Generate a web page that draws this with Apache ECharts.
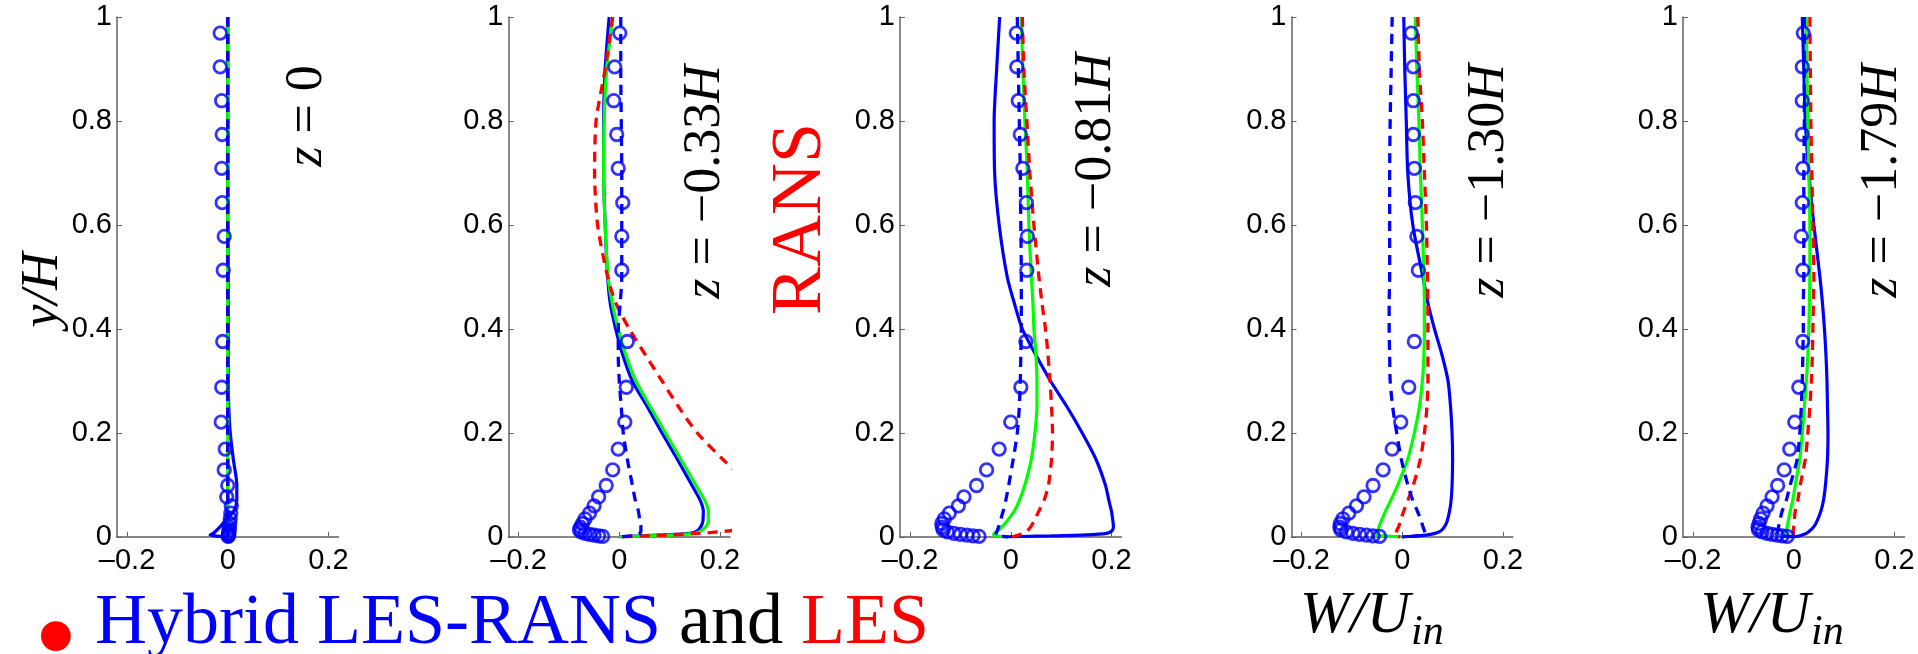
<!DOCTYPE html>
<html><head><meta charset="utf-8">
<script src="https://cdn.jsdelivr.net/npm/echarts@6/dist/echarts.min.js"></script>
<style>html,body{margin:0;padding:0;background:#fff}#c{width:1918px;height:654px}</style>
</head><body><div id="c"></div>
<script>
// ---------- DATA ----------
const stationLabels = ['0', '−0.33', '−0.81', '−1.30', '−1.79'];
const xTicks = [-0.2, 0, 0.2];
const yTicks = [0, 0.2, 0.4, 0.6, 0.8, 1];

// experimental points (blue circles): common y positions
const expY = [0.969, 0.904, 0.839, 0.774, 0.709, 0.643, 0.578, 0.513, 0.376, 0.288, 0.221, 0.169, 0.129, 0.099, 0.077, 0.060, 0.046, 0.035, 0.026, 0.019, 0.014, 0.010, 0.007, 0.005, 0.0035, 0.0022, 0.0012];
const exp_z0    = [-0.015, -0.015, -0.012, -0.011, -0.012, -0.011, -0.007, -0.009, -0.010, -0.012, -0.013, -0.005, -0.007, 0.000, -0.002, 0.007, 0.006, 0.005, 0.004, 0.003, 0.003, 0.002, 0.002, 0.002, 0.001, 0.001, 0.001];
const exp_z033  = [0.001, -0.009, -0.011, -0.005, -0.002, 0.007, 0.005, 0.005, 0.016, 0.014, 0.011, -0.002, -0.013, -0.026, -0.041, -0.050, -0.059, -0.068, -0.073, -0.077, -0.079, -0.076, -0.068, -0.059, -0.050, -0.041, -0.033];
const exp_z081  = [0.011, 0.012, 0.015, 0.019, 0.024, 0.031, 0.033, 0.032, 0.030, 0.020, 0.000, -0.023, -0.048, -0.068, -0.093, -0.104, -0.122, -0.132, -0.137, -0.136, -0.134, -0.126, -0.113, -0.100, -0.087, -0.075, -0.063];
const exp_z130  = [0.018, 0.022, 0.022, 0.022, 0.024, 0.026, 0.029, 0.032, 0.024, 0.013, -0.003, -0.020, -0.038, -0.058, -0.076, -0.091, -0.106, -0.118, -0.123, -0.124, -0.122, -0.111, -0.098, -0.085, -0.071, -0.058, -0.045];
const exp_z179  = [0.019, 0.017, 0.017, 0.017, 0.018, 0.017, 0.015, 0.018, 0.018, 0.010, 0.002, -0.008, -0.019, -0.032, -0.043, -0.053, -0.061, -0.066, -0.069, -0.071, -0.070, -0.063, -0.053, -0.043, -0.033, -0.023, -0.013];

// simulation profiles: common y positions
const lineY = [1, 0.9, 0.8, 0.7, 0.6, 0.5, 0.45, 0.4, 0.35, 0.3, 0.25, 0.2, 0.15, 0.1, 0.07, 0.05, 0.03, 0.02, 0.012, 0.007, 0.004, 0.002, 0.001, 0];

// blue solid
const blueSolid_z0   = [0, 0, 0, 0, 0, 0.001, 0.001, 0.001, 0.001, 0.001, 0.002, 0.005, 0.011, 0.018, 0.018, 0.012, -0.006, -0.015, -0.023, -0.029, -0.035, -0.025, -0.012, 0];
const blueSolid_z033 = [-0.020, -0.028, -0.031, -0.031, -0.028, -0.023, -0.018, -0.007, 0.007, 0.026, 0.056, 0.085, 0.115, 0.144, 0.161, 0.167, 0.166, 0.162, 0.155, 0.140, 0.090, 0.040, 0.010, 0];
const blueSolid_z081 = [-0.022, -0.028, -0.033, -0.032, -0.023, -0.007, 0.007, 0.023, 0.050, 0.079, 0.112, 0.142, 0.169, 0.188, 0.195, 0.200, 0.203, 0.204, 0.201, 0.190, 0.150, 0.080, 0.020, -0.013];
const blueSolid_z130 = [0.003, 0.005, 0.008, 0.011, 0.021, 0.041, 0.051, 0.064, 0.079, 0.091, 0.096, 0.099, 0.100, 0.099, 0.097, 0.094, 0.089, 0.084, 0.077, 0.065, 0.050, 0.030, 0.015, 0];
const blueSolid_z179 = [0.017, 0.020, 0.023, 0.030, 0.040, 0.052, 0.057, 0.061, 0.064, 0.066, 0.067, 0.068, 0.067, 0.063, 0.059, 0.054, 0.046, 0.040, 0.032, 0.025, 0.017, 0.010, 0.005, 0];

// blue dashed
const blueDash_z0   = [0, 0, 0, 0, 0, 0, 0, 0, 0, 0, 0, 0, 0, 0, 0, 0, 0, 0, 0, 0, 0, 0, 0, 0];
const blueDash_z033 = [0.003, 0.003, 0.004, 0.005, 0.005, 0.005, 0.002, -0.002, -0.002, 0.000, 0.004, 0.008, 0.016, 0.026, 0.032, 0.038, 0.041, 0.043, 0.043, 0.041, 0.036, 0.025, 0.012, 0];
const blueDash_z081 = [0.013, 0.015, 0.017, 0.019, 0.020, 0.021, 0.021, 0.021, 0.020, 0.019, 0.017, 0.013, 0.005, -0.004, -0.010, -0.015, -0.021, -0.024, -0.027, -0.029, -0.030, -0.025, -0.015, -0.005];
const blueDash_z130 = [-0.020, -0.022, -0.024, -0.025, -0.025, -0.025, -0.026, -0.026, -0.025, -0.024, -0.019, -0.011, -0.002, 0.011, 0.021, 0.030, 0.038, 0.041, 0.044, 0.046, 0.046, 0.030, 0.015, 0];
const blueDash_z179 = [0.021, 0.021, 0.021, 0.020, 0.020, 0.020, 0.019, 0.019, 0.018, 0.017, 0.015, 0.012, 0.007, -0.007, -0.015, -0.023, -0.028, -0.030, -0.032, -0.033, -0.033, -0.022, -0.011, 0];

// green solid
const green_z0   = [0, 0, 0, 0, 0, 0, 0, 0, 0, 0, 0, 0, 0, 0, 0, 0, 0, 0, 0, 0, 0, 0, 0, 0];
const green_z033 = [-0.013, -0.025, -0.030, -0.031, -0.028, -0.022, -0.014, -0.002, 0.013, 0.033, 0.062, 0.092, 0.122, 0.152, 0.170, 0.177, 0.177, 0.172, 0.163, 0.150, 0.110, 0.060, 0.020, 0];
const green_z081 = [0.021, 0.024, 0.028, 0.033, 0.036, 0.041, 0.044, 0.046, 0.050, 0.052, 0.052, 0.048, 0.041, 0.028, 0.017, 0.007, -0.008, -0.017, -0.026, -0.033, -0.034, -0.028, -0.020, -0.013];
const green_z130 = [0.026, 0.029, 0.033, 0.036, 0.040, 0.043, 0.044, 0.044, 0.043, 0.040, 0.034, 0.024, 0.011, -0.009, -0.023, -0.033, -0.042, -0.046, -0.049, -0.051, -0.052, -0.035, -0.015, 0];
const green_z179 = [0.025, 0.026, 0.028, 0.030, 0.032, 0.032, 0.031, 0.030, 0.028, 0.025, 0.021, 0.017, 0.012, 0.003, -0.002, -0.007, -0.011, -0.013, -0.015, -0.016, -0.017, -0.012, -0.006, 0];

// red dashed
const red_z0   = [0, 0, 0, 0, 0, 0, 0, 0, 0, 0, 0, 0, 0, 0, 0, 0, 0, 0, 0, 0, 0, 0, 0, 0];
const red_z033 = [-0.013, -0.028, -0.046, -0.049, -0.043, -0.023, -0.007, 0.020, 0.052, 0.085, 0.118, 0.155, 0.205, 0.260, 0.290, 0.300, 0.290, 0.270, 0.220, 0.160, 0.100, 0.050, 0.020, 0];
const red_z081 = [0.023, 0.026, 0.032, 0.038, 0.046, 0.056, 0.062, 0.069, 0.074, 0.078, 0.081, 0.083, 0.081, 0.075, 0.066, 0.056, 0.046, 0.040, 0.033, 0.024, 0.017, 0.010, 0.006, 0.002];
const red_z130 = [0.031, 0.034, 0.040, 0.044, 0.048, 0.050, 0.051, 0.051, 0.051, 0.051, 0.049, 0.044, 0.036, 0.022, 0.011, 0.003, -0.004, -0.007, -0.011, -0.013, -0.015, -0.012, -0.008, -0.004];
const red_z179 = [0.032, 0.033, 0.034, 0.036, 0.038, 0.040, 0.039, 0.038, 0.037, 0.035, 0.032, 0.028, 0.023, 0.013, 0.008, 0.003, 0.001, 0.000, -0.001, -0.001, -0.001, 0, 0, 0];

// ---------- BUILD ----------
const expSets = [exp_z0, exp_z033, exp_z081, exp_z130, exp_z179];
const blueSolidSets = [blueSolid_z0, blueSolid_z033, blueSolid_z081, blueSolid_z130, blueSolid_z179];
const blueDashSets = [blueDash_z0, blueDash_z033, blueDash_z081, blueDash_z130, blueDash_z179];
const greenSets = [green_z0, green_z033, green_z081, green_z130, green_z179];
const redSets = [red_z0, red_z033, red_z081, red_z130, red_z179];

const gridLefts = [117, 508.5, 900, 1291.5, 1683];
const gridW = 221.5, gridTop = 17, gridH = 520;
const axisCol = '#606060';
const tickFont = 'Liberation Sans';
const mathFont = 'Liberation Serif';

const grids = [], xAxes = [], yAxes = [], series = [];
const pairs = (xs, ys) => xs.map((x, k) => [x, ys[k]]);
const fmtX = v => (v < 0 ? '–' + Math.abs(v) : String(v));

for (let i = 0; i < 5; i++) {
  grids.push({left: gridLefts[i], top: gridTop, width: gridW, height: gridH, containLabel: false});
  xAxes.push({
    type: 'value', gridIndex: i, min: -0.22, max: 0.22,
    splitLine: {show: false},
    axisLine: {show: true, lineStyle: {color: axisCol, width: 1.5}},
    axisTick: {show: true, inside: true, length: 5, customValues: xTicks, lineStyle: {color: axisCol, width: 1}},
    axisLabel: {customValues: xTicks, formatter: fmtX, color: '#000', fontFamily: tickFont, fontSize: 29, margin: 9}
  });
  yAxes.push({
    type: 'value', gridIndex: i, min: 0, max: 1, interval: 0.2,
    splitLine: {show: false},
    axisLine: {show: true, onZero: false, lineStyle: {color: axisCol, width: 1.5}},
    axisTick: {show: true, inside: true, length: 5, lineStyle: {color: axisCol, width: 1}},
    axisLabel: {color: '#000', fontFamily: tickFont, fontSize: 29, margin: 5}
  });
  const common = {type: 'line', xAxisIndex: i, yAxisIndex: i, showSymbol: false, symbol: 'none', smooth: 0.25, clip: true, animation: false, z: 2};
  series.push(Object.assign({}, common, {name: 'Hybrid LES-RANS', data: pairs(blueSolidSets[i], lineY), lineStyle: {color: '#0000ff', width: 3.2}}));
  series.push(Object.assign({}, common, {name: 'green', data: pairs(greenSets[i], lineY), lineStyle: {color: '#00ff00', width: 3.2}}));
  series.push(Object.assign({}, common, {name: 'LES', data: pairs(redSets[i], lineY), lineStyle: {color: '#ff0000', width: 3.3, type: [10, 7]}}));
  series.push(Object.assign({}, common, {name: 'blue dashed', data: pairs(blueDashSets[i], lineY), lineStyle: {color: '#0000ff', width: 3.3, type: [10, 7]}}));
  series.push({
    type: 'scatter', xAxisIndex: i, yAxisIndex: i, name: 'Experiment', symbol: 'circle', symbolSize: 12.5,
    data: pairs(expSets[i], expY), clip: false, animation: false, z: 3,
    itemStyle: {color: 'rgba(0,0,0,0)', borderColor: '#0000ff', borderWidth: 2.8}
  });
}

const R = Math.PI / 2;
const zSize = 52;
const mathRich = {i: {fontStyle: 'italic', fontFamily: mathFont, fontSize: zSize, fill: '#000'}, n: {fontFamily: mathFont, fontSize: zSize, fill: '#000'}};
const zCentersX = [307, 705, 1096, 1489, 1882];
const zCentersY = [116, 182, 170, 181, 181];
const graphics = [];
for (let i = 0; i < 5; i++) {
  graphics.push({type: 'text', x: zCentersX[i], y: zCentersY[i], rotation: R,
    style: {text: '{i|z}{n| = ' + stationLabels[i] + '}' + (i === 0 ? '' : '{i|H}'), rich: mathRich, align: 'center', verticalAlign: 'middle', fontFamily: mathFont, fontSize: zSize}});
}
graphics.push({type: 'text', x: 43, y: 290, rotation: R,
  style: {text: 'y/H', fontFamily: mathFont, fontStyle: 'italic', fontSize: 52, fill: '#000', align: 'center', verticalAlign: 'middle'}});
graphics.push({type: 'text', x: 801, y: 219, rotation: R,
  style: {text: 'RANS', fontFamily: mathFont, fontSize: 72, fill: '#ff0000', align: 'center', verticalAlign: 'middle'}});
// bottom caption
graphics.push({type: 'text', x: 56, y: 645,
  style: {text: '•', fontFamily: mathFont, fontSize: 125, fill: '#ff0000', align: 'center', verticalAlign: 'middle'}});
graphics.push({type: 'text', x: 95, y: 624,
  style: {text: '{b|Hybrid LES-RANS} {k|and} {r|LES}', align: 'left', verticalAlign: 'middle', fontFamily: mathFont, fontSize: 72,
    rich: {b: {fill: '#0000ff', fontFamily: mathFont, fontSize: 72}, k: {fill: '#000', fontFamily: mathFont, fontSize: 72}, r: {fill: '#ff0000', fontFamily: mathFont, fontSize: 72}}}});
// W/U_in labels
const wuLeft = [1300, 1700];
for (const L of wuLeft) {
  graphics.push({type: 'text', x: L, y: 616, style: {text: 'W/U', fontFamily: mathFont, fontStyle: 'italic', fontSize: 60, fill: '#000', align: 'left', verticalAlign: 'middle'}});
  graphics.push({type: 'text', x: L + 111, y: 633, style: {text: 'in', fontFamily: mathFont, fontStyle: 'italic', fontSize: 42, fill: '#000', align: 'left', verticalAlign: 'middle'}});
}

const chart = echarts.init(document.getElementById('c'), null, {renderer: 'canvas'});
chart.setOption({
  animation: false, backgroundColor: '#fff',
  grid: grids, xAxis: xAxes, yAxis: yAxes, series: series, graphic: graphics
});
</script>
</body></html>
